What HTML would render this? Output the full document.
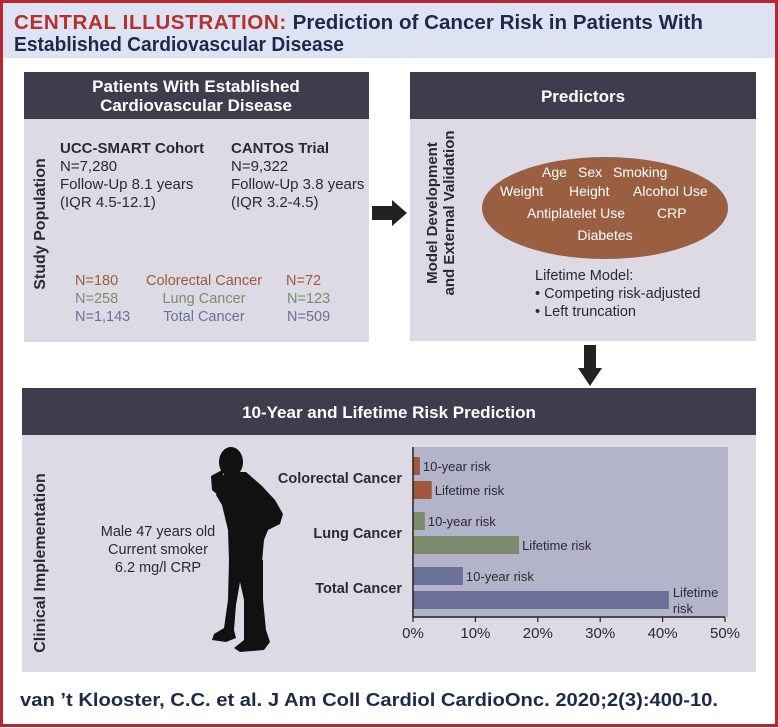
<!DOCTYPE html>
<html><head><meta charset="utf-8"><style>
body{margin:0;background:#fff;}
svg{display:block;font-family:"Liberation Sans",sans-serif;}
</style></head><body>
<svg width="778" height="728" viewBox="0 0 778 728" xmlns="http://www.w3.org/2000/svg">
<rect x="1.5" y="1.5" width="775" height="724" fill="#fff" stroke="#b7282e" stroke-width="3"/>
<rect x="3" y="3" width="772" height="55" fill="#dde3f2"/>
<text x="14" y="29" font-size="20" font-weight="bold" textLength="689" lengthAdjust="spacingAndGlyphs"><tspan fill="#b5302f" letter-spacing="0.6">CENTRAL ILLUSTRATION:</tspan><tspan fill="#1e2a4a"> Prediction of Cancer Risk in Patients With</tspan></text>
<text x="14" y="51" font-size="20" font-weight="bold" fill="#1e2a4a" textLength="330" lengthAdjust="spacingAndGlyphs">Established Cardiovascular Disease</text>

<!-- Panel 1 -->
<g>
<rect x="24" y="72" width="345" height="270" fill="#dcdbe5"/>
<rect x="24" y="72" width="345" height="47" fill="#3f3c4e"/>
<text x="196" y="92" font-size="17" font-weight="bold" fill="#fff" text-anchor="middle">Patients With Established</text>
<text x="196" y="111" font-size="17" font-weight="bold" fill="#fff" text-anchor="middle">Cardiovascular Disease</text>
<text transform="translate(45,224) rotate(-90)" font-size="16" font-weight="bold" fill="#2a2a33" text-anchor="middle">Study Population</text>
<g font-size="15" fill="#2a2a33">
<text x="60" y="153" font-weight="bold">UCC-SMART Cohort</text>
<text x="60" y="171">N=7,280</text>
<text x="60" y="189">Follow-Up 8.1 years</text>
<text x="60" y="207">(IQR 4.5-12.1)</text>
<text x="231" y="153" font-weight="bold">CANTOS Trial</text>
<text x="231" y="171">N=9,322</text>
<text x="231" y="189">Follow-Up 3.8 years</text>
<text x="231" y="207">(IQR 3.2-4.5)</text>
</g>
<g font-size="14.5">
<text x="75" y="285" fill="#a0583a">N=180</text><text x="204" y="285" fill="#a0583a" text-anchor="middle">Colorectal Cancer</text><text x="286" y="285" fill="#a0583a">N=72</text>
<text x="75" y="303" fill="#7a8c6c">N=258</text><text x="204" y="303" fill="#7a8c6c" text-anchor="middle">Lung Cancer</text><text x="287" y="303" fill="#7a8c6c">N=123</text>
<text x="75" y="321" fill="#6a7096">N=1,143</text><text x="204" y="321" fill="#6a7096" text-anchor="middle">Total Cancer</text><text x="287" y="321" fill="#6a7096">N=509</text>
</g>
</g>
<polygon points="372,206 392,206 392,200 407,213 392,226 392,220 372,220" fill="#222"/>

<!-- Panel 2 -->
<g>
<rect x="410" y="72" width="346" height="269" fill="#dcdbe5"/>
<rect x="410" y="72" width="346" height="47" fill="#3f3c4e"/>
<text x="583" y="102" font-size="17" font-weight="bold" fill="#fff" text-anchor="middle">Predictors</text>
<text transform="translate(437,213) rotate(-90)" font-size="15" font-weight="bold" fill="#2a2a33" text-anchor="middle">Model Development</text>
<text transform="translate(454,213) rotate(-90)" font-size="15" font-weight="bold" fill="#2a2a33" text-anchor="middle">and External Validation</text>
<ellipse cx="605" cy="208" rx="123" ry="51" fill="#9a5e41"/>
<g font-size="14" fill="#fff">
<text x="542" y="177">Age</text><text x="578" y="177">Sex</text><text x="613" y="177">Smoking</text>
<text x="500" y="196">Weight</text><text x="569" y="196">Height</text><text x="633" y="196">Alcohol Use</text>
<text x="527" y="218">Antiplatelet Use</text><text x="657" y="218">CRP</text>
<text x="605" y="240" text-anchor="middle">Diabetes</text>
</g>
<g font-size="14.5" fill="#2a2a33">
<text x="535" y="280">Lifetime Model:</text>
<text x="535" y="298">• Competing risk-adjusted</text>
<text x="535" y="316">• Left truncation</text>
</g>
</g>
<polygon points="584,345 596,345 596,368 602,368 590,386 578,368 584,368" fill="#222"/>

<!-- Panel 3 -->
<g>
<rect x="22" y="388" width="734" height="284" fill="#dcdbe5"/>
<rect x="22" y="388" width="734" height="47" fill="#3f3c4e"/>
<text x="389" y="418" font-size="17" font-weight="bold" fill="#fff" text-anchor="middle">10-Year and Lifetime Risk Prediction</text>
<text transform="translate(45,563) rotate(-90)" font-size="16" font-weight="bold" fill="#2a2a33" text-anchor="middle">Clinical Implementation</text>
<g font-size="14.5" fill="#2a2a33" text-anchor="middle">
<text x="158" y="536">Male 47 years old</text>
<text x="158" y="554">Current smoker</text>
<text x="158" y="572">6.2 mg/l CRP</text>
</g>
<g fill="#111">
<ellipse cx="231" cy="462" rx="12" ry="15"/>
<polygon points="225,472 246,472 262,486 275,500 283,514 280,524 268,530 264,540 262,562 229,562 228,530 222,505 216,495"/>
<polygon points="211,476 222,470 227,488 219,496 212,490"/>
<polygon points="229,560 263,560 263,600 266,630 270,642 264,650 240,652 234,648 244,640 244,600 240,582 236,605 234,630 236,638 226,642 212,640 214,634 224,628 228,600"/>
</g>
</g>

<g id="chart"></g>

<text x="20" y="706" font-size="18" font-weight="bold" fill="#1e2a4a" textLength="698" lengthAdjust="spacingAndGlyphs">van ’t Klooster, C.C. et al. J Am Coll Cardiol CardioOnc. 2020;2(3):400-10.</text>
</svg>
<script>
const categories = ["Colorectal Cancer", "Lung Cancer", "Total Cancer"];
const tenYearRisk = [1.1, 1.9, 8.0];
const lifetimeRisk = [3.0, 17.0, 41.0];
const tickValues = [0, 10, 20, 30, 40, 50];
const tickLabels = ["0%", "10%", "20%", "30%", "40%", "50%"];

const NS = "http://www.w3.org/2000/svg";
const g = document.getElementById("chart");
const x0 = 413, x1 = 725, xMax = 50;
const plotTop = 447, plotBottom = 617;
const xs = v => x0 + (v / xMax) * (x1 - x0);
const groupTop = i => 457 + i * 55;
const colors = ["#a0583a", "#7a8c6c", "#6a7096"];
function mk(tag, attrs, parent) {
  const e = document.createElementNS(NS, tag);
  for (const k in attrs) e.setAttribute(k, attrs[k]);
  (parent || g).appendChild(e);
  return e;
}
const bg = mk("rect", {x: x0, y: plotTop, width: 315, height: plotBottom - plotTop, fill: "#b3b4c9"});


categories.forEach((c, i) => {
  const top = groupTop(i);
  const lab = mk("text", {x: 402, y: top + 26, "font-size": 14.5, "font-weight": "bold", fill: "#2a2a33", "text-anchor": "end"});
  lab.textContent = c;
  
  
  const b1 = mk("rect", {x: x0, y: top, width: xs(tenYearRisk[i]) - x0, height: 18, fill: colors[i]});
  
  
  const t1 = mk("text", {x: xs(tenYearRisk[i]) + 3, y: top + 14, "font-size": 13, fill: "#2a2a33"});
  t1.textContent = "10-year risk";
  
  
  const b2 = mk("rect", {x: x0, y: top + 24, width: xs(lifetimeRisk[i]) - x0, height: 18, fill: colors[i]});
  
  
  if (lifetimeRisk[i] > 35) {
    const t2 = mk("text", {x: xs(lifetimeRisk[i]) + 4, y: top + 30, "font-size": 13, fill: "#2a2a33"});
    t2.textContent = "Lifetime";
    
    
    const t3 = mk("text", {x: xs(lifetimeRisk[i]) + 4, y: top + 46, "font-size": 13, fill: "#2a2a33"});
    t3.textContent = "risk";
    
    
  } else {
    const t2 = mk("text", {x: xs(lifetimeRisk[i]) + 3, y: top + 38, "font-size": 13, fill: "#2a2a33"});
    t2.textContent = "Lifetime risk";
    
    
  }
});
const ax = mk("path", {d: `M${x0},${plotTop} V${plotBottom} H${x1}`, stroke: "#222", "stroke-width": 1.5, fill: "none"});


tickValues.forEach((v, i) => {
  const tk = mk("line", {x1: xs(v), x2: xs(v), y1: plotBottom, y2: plotBottom + 5, stroke: "#222", "stroke-width": 1.2});
  
  
  const tl = mk("text", {x: xs(v), y: 638, "font-size": 15, fill: "#2a2a33", "text-anchor": "middle"});
  tl.textContent = tickLabels[i];
  
  
});
</script>
</body></html>
